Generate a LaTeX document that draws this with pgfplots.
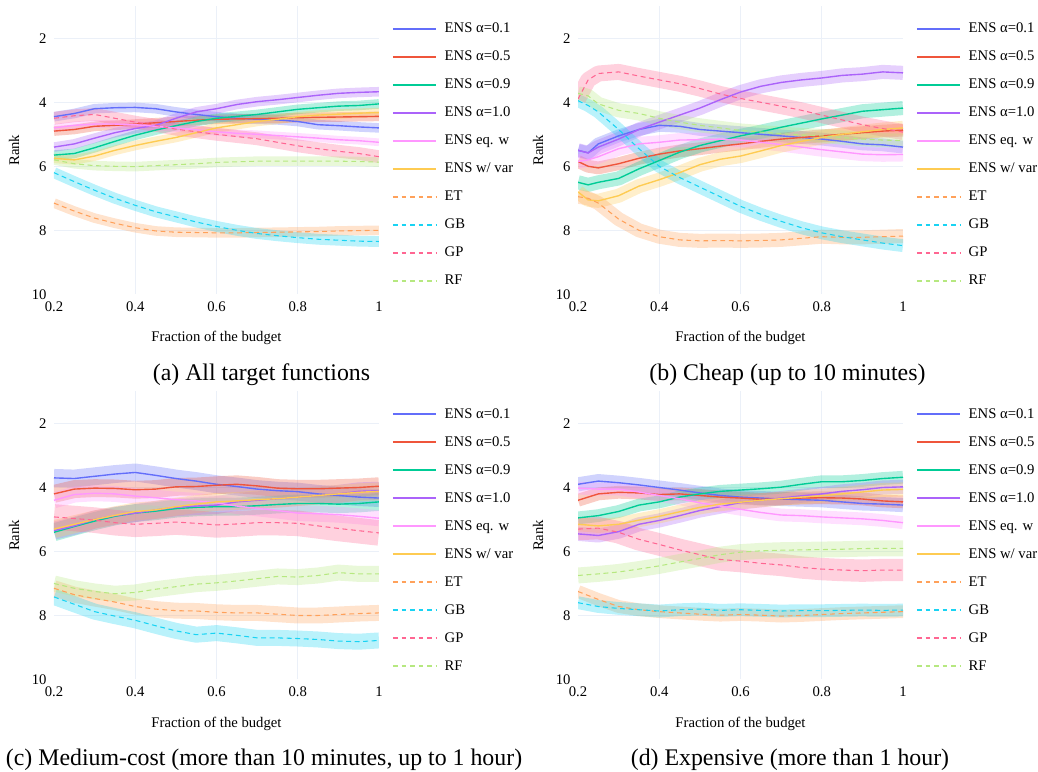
\documentclass[border=0pt]{standalone}
\usepackage{pgfplots}
\pgfplotsset{compat=1.18}
\usepackage{pgfplotstable}
\usepackage{fontspec}
\setmainfont{Liberation Serif}

\definecolor{c1}{HTML}{636EFA}
\definecolor{c5}{HTML}{EF553B}
\definecolor{c9}{HTML}{00CC96}
\definecolor{c10}{HTML}{AB63FA}
\definecolor{ceq}{HTML}{FF97FF}
\definecolor{cvar}{HTML}{FECB52}
\definecolor{cet}{HTML}{FFA15A}
\definecolor{cgb}{HTML}{19D3F3}
\definecolor{cgp}{HTML}{FF6692}
\definecolor{crf}{HTML}{B6E880}
\definecolor{gridc}{HTML}{EBF0F8}

\pgfplotstableread{
x     a1   a5   a9   a10  eq   var  et   gb   gp   rf
0.2   4.45 4.90 5.65 5.40 4.80 5.75 7.15 6.20 4.50 5.80
0.25  4.35 4.85 5.60 5.30 4.72 5.80 7.40 6.48 4.42 5.92
0.3   4.20 4.75 5.42 5.12 4.68 5.68 7.62 6.75 4.38 5.98
0.35  4.17 4.72 5.22 4.95 4.68 5.50 7.78 7.00 4.50 6.00
0.4   4.16 4.68 5.03 4.82 4.70 5.35 7.92 7.22 4.62 6.01
0.45  4.20 4.64 4.87 4.72 4.75 5.22 8.02 7.42 4.72 5.98
0.5   4.30 4.60 4.73 4.50 4.80 5.10 8.06 7.58 4.84 5.95
0.55  4.38 4.56 4.60 4.30 4.86 4.95 8.07 7.74 4.92 5.92
0.6   4.45 4.53 4.50 4.20 4.92 4.80 8.08 7.88 5.00 5.88
0.65  4.50 4.52 4.44 4.07 4.97 4.70 8.08 8.00 5.07 5.86
0.7   4.53 4.51 4.38 3.98 5.00 4.60 8.07 8.10 5.14 5.84
0.75  4.55 4.50 4.30 3.92 5.04 4.53 8.06 8.17 5.25 5.84
0.8   4.60 4.48 4.22 3.85 5.08 4.45 8.05 8.23 5.36 5.84
0.85  4.70 4.47 4.17 3.78 5.12 4.40 8.04 8.28 5.45 5.84
0.9   4.73 4.46 4.12 3.72 5.17 4.37 8.02 8.31 5.53 5.84
0.95  4.77 4.45 4.10 3.69 5.20 4.34 8.01 8.34 5.60 5.85
1.0   4.80 4.44 4.05 3.67 5.25 4.32 8.00 8.35 5.70 5.87
}\tabA

\pgfplotstableread{
x     a1   a5   a9   a10  eq   var  et   gb   gp   rf
0.2   5.50 5.85 6.50 5.50 5.85 6.80 6.95 3.95 3.90 3.72
0.225 5.58 6.00 6.58 5.58 5.80 7.05 7.00 4.10 3.30 3.80
0.25  5.30 6.05 6.50 5.40 5.70 7.08 7.15 4.30 3.10 4.05
0.3   5.05 5.92 6.38 5.15 5.45 6.92 7.65 4.85 3.05 4.25
0.35  4.85 5.75 6.08 4.85 5.30 6.62 8.00 5.45 3.18 4.35
0.4   4.72 5.62 5.82 4.62 5.25 6.42 8.20 6.00 3.30 4.50
0.45  4.75 5.52 5.56 4.40 5.18 6.20 8.30 6.35 3.42 4.62
0.5   4.85 5.45 5.35 4.18 5.17 5.95 8.33 6.65 3.57 4.72
0.55  4.90 5.37 5.20 3.92 5.15 5.78 8.32 6.95 3.74 4.80
0.6   4.95 5.30 5.05 3.68 5.18 5.68 8.33 7.25 3.88 4.88
0.65  5.00 5.22 4.92 3.50 5.25 5.52 8.32 7.50 4.00 4.93
0.7   5.05 5.15 4.78 3.38 5.32 5.35 8.30 7.72 4.12 4.98
0.75  5.10 5.10 4.65 3.30 5.40 5.22 8.25 7.92 4.25 5.02
0.8   5.15 5.05 4.52 3.24 5.48 5.10 8.20 8.08 4.40 5.05
0.85  5.22 5.00 4.40 3.16 5.55 5.00 8.22 8.20 4.55 5.10
0.9   5.30 4.95 4.28 3.12 5.62 4.92 8.22 8.30 4.70 5.15
0.95  5.33 4.90 4.23 3.05 5.64 4.85 8.20 8.40 4.82 5.18
1.0   5.40 4.87 4.18 3.08 5.63 4.80 8.18 8.48 4.93 5.20
}\tabB

\pgfplotstableread{
x     a1   a5   a9   a10  eq   var  et   gb   gp   rf
0.2   3.70 4.20 5.40 5.35 4.40 5.30 7.15 7.42 4.92 7.00
0.25  3.72 4.05 5.22 5.20 4.22 5.15 7.35 7.65 4.97 7.15
0.3   3.65 4.02 5.05 5.00 4.18 5.00 7.47 7.88 5.02 7.25
0.35  3.58 4.03 4.90 4.88 4.20 4.87 7.58 8.02 5.10 7.32
0.4   3.53 4.07 4.80 4.80 4.27 4.75 7.72 8.15 5.15 7.28
0.45  3.62 4.05 4.74 4.70 4.32 4.70 7.80 8.32 5.12 7.18
0.5   3.72 3.98 4.66 4.62 4.38 4.60 7.85 8.48 5.08 7.10
0.55  3.80 3.97 4.62 4.58 4.42 4.52 7.86 8.60 5.12 7.02
0.6   3.90 3.93 4.60 4.55 4.48 4.45 7.90 8.55 5.17 6.98
0.65  3.97 3.90 4.60 4.45 4.58 4.42 7.92 8.62 5.14 6.92
0.7   4.05 3.95 4.57 4.40 4.65 4.38 7.92 8.70 5.10 6.85
0.75  4.10 4.02 4.53 4.35 4.72 4.35 7.96 8.70 5.10 6.78
0.8   4.13 4.04 4.50 4.30 4.80 4.30 8.00 8.72 5.12 6.80
0.85  4.20 4.04 4.50 4.25 4.82 4.25 8.00 8.75 5.20 6.75
0.9   4.25 4.02 4.52 4.20 4.85 4.20 7.97 8.80 5.28 6.66
0.95  4.30 4.00 4.50 4.12 4.90 4.15 7.94 8.82 5.35 6.70
1.0   4.33 3.96 4.45 4.10 4.96 4.12 7.92 8.78 5.42 6.70
}\tabC

\pgfplotstableread{
x     a1   a5   a9   a10  eq   var  et   gb   gp   rf
0.2   3.90 4.40 4.95 5.45 4.02 5.15 7.25 7.60 5.30 6.75
0.25  3.80 4.20 4.88 5.50 4.05 5.20 7.50 7.72 5.27 6.70
0.3   3.85 4.15 4.75 5.38 4.05 5.15 7.72 7.78 5.40 6.64
0.35  3.92 4.17 4.55 5.15 4.14 5.02 7.82 7.82 5.62 6.55
0.4   4.00 4.22 4.45 5.03 4.25 4.90 7.88 7.86 5.78 6.45
0.45  4.08 4.20 4.30 4.88 4.35 4.76 7.92 7.82 5.95 6.33
0.5   4.17 4.25 4.20 4.72 4.48 4.62 7.96 7.80 6.10 6.22
0.55  4.25 4.30 4.12 4.60 4.58 4.52 7.99 7.84 6.25 6.10
0.6   4.30 4.33 4.08 4.47 4.68 4.46 7.97 7.82 6.30 6.02
0.65  4.33 4.37 4.04 4.40 4.78 4.40 7.99 7.84 6.37 5.98
0.7   4.36 4.35 3.99 4.33 4.86 4.35 8.02 7.86 6.42 5.96
0.75  4.38 4.33 3.90 4.26 4.88 4.30 8.00 7.85 6.50 5.95
0.8   4.40 4.32 3.82 4.20 4.92 4.26 7.97 7.85 6.55 5.94
0.85  4.45 4.33 3.82 4.12 4.95 4.20 7.94 7.84 6.58 5.93
0.9   4.50 4.36 3.78 4.07 4.98 4.14 7.92 7.83 6.60 5.91
0.95  4.52 4.42 3.72 4.00 5.03 4.08 7.90 7.84 6.58 5.90
1.0   4.55 4.45 3.68 3.98 5.10 4.06 7.88 7.83 6.58 5.90
}\tabD

\tikzset{dashed base/.style={dash pattern=on 2.3pt off 1.7pt}}

% band drawn as a wide translucent stroke along the mean:
% #1 table, #2 column, #3 colour, #4 band width
\newcommand\band[4]{%
  \addplot[draw=#3, draw opacity=0.3, line width=#4, line join=round, forget plot] table[x=x, y=#2] {#1};
}
\newcommand\serieslines[1]{%
  \addplot[color=c1, line width=0.65pt] table[x=x, y=a1] {#1};
  \addplot[color=c5, line width=0.65pt] table[x=x, y=a5] {#1};
  \addplot[color=c9, line width=0.65pt] table[x=x, y=a9] {#1};
  \addplot[color=c10, line width=0.65pt] table[x=x, y=a10] {#1};
  \addplot[color=ceq, line width=0.65pt] table[x=x, y=eq] {#1};
  \addplot[color=cvar, line width=0.65pt] table[x=x, y=var] {#1};
  \addplot[color=cet, line width=0.5pt, dashed base] table[x=x, y=et] {#1};
  \addplot[color=cgb, line width=0.5pt, dashed base] table[x=x, y=gb] {#1};
  \addplot[color=cgp, line width=0.5pt, dashed base] table[x=x, y=gp] {#1};
  \addplot[color=crf, line width=0.5pt, dashed base] table[x=x, y=rf] {#1};
}
\newcommand\wvar{ENS w/ var}
% legend key beside a named axis
\newcommand\keys[1]{%
  \foreach \i/\c/\s/\t in {0/c1/solid/ENS α=0.1, 1/c5/solid/ENS α=0.5, 2/c9/solid/ENS α=0.9,
      3/c10/solid/ENS α=1.0, 4/ceq/solid/ENS eq. w, 5/cvar/solid/\wvar,
      6/cet/dashed base/ET, 7/cgb/dashed base/GB, 8/cgp/dashed base/GP, 9/crf/dashed base/RF}{
    \draw[color=\c, line width=0.8pt, \s] ([xshift=6.58pt, yshift={-10.67pt-\i*13.16pt}]#1.north east) -- ++(20.2pt,0pt)
      node[right, inner sep=0pt, xshift=3.7pt, text height=5pt, text depth=1.3pt,
           text=black, font=\fontsize{6.9}{8}\selectfont] {\t};
  }%
}

\pgfplotsset{panel/.style={
  scale only axis, width=152.75pt, height=135.36pt,
  xmin=0.2, xmax=1, ymin=1, ymax=10, y dir=reverse,
  xtick={0.2,0.4,0.6,0.8,1}, ytick={2,4,6,8,10},
  xticklabels={0.2,0.4,0.6,0.8,1},
  minor xtick={0.4,0.6,0.8}, minor ytick={2,4,6,8},
  xminorgrids=true, yminorgrids=true,
  minor grid style={color=gridc, line width=0.6pt},
  major tick length=0pt, minor tick length=0pt,
  axis line style={draw=none},
  tick label style={font=\fontsize{6.9}{8}\selectfont},
  /pgf/number format/assume math mode=true,
  xlabel={Fraction of the budget}, ylabel={Rank},
  label style={font=\fontsize{6.9}{8}\selectfont},
  xlabel style={at={(axis description cs:0.5,-0.153)}, anchor=center},
  ylabel style={at={(axis description cs:-0.123,0.5)}, anchor=center},
}}

\begin{document}
\begin{tikzpicture}

\begin{axis}[panel, name=axA, at={(25.38pt,224.52pt)}, anchor=south west]
  \band{\tabA}{a1}{c1}{4.5pt}
  \band{\tabA}{a5}{c5}{4.5pt}
  \band{\tabA}{a9}{c9}{4.5pt}
  \band{\tabA}{a10}{c10}{4.5pt}
  \band{\tabA}{eq}{ceq}{3.6pt}
  \band{\tabA}{var}{cvar}{4.5pt}
  \band{\tabA}{et}{cet}{4.5pt}
  \band{\tabA}{gb}{cgb}{5.1pt}
  \band{\tabA}{gp}{cgp}{6pt}
  \band{\tabA}{rf}{crf}{4.5pt}
  \serieslines{\tabA}
\end{axis}
\keys{axA}

\begin{axis}[panel, name=axB, at={(271.66pt,224.52pt)}, anchor=south west]
  \band{\tabB}{a1}{c1}{6pt}
  \band{\tabB}{a5}{c5}{6pt}
  \band{\tabB}{a9}{c9}{6.6pt}
  \band{\tabB}{a10}{c10}{6.6pt}
  \band{\tabB}{eq}{ceq}{6.6pt}
  \band{\tabB}{var}{cvar}{6.6pt}
  \band{\tabB}{et}{cet}{6.6pt}
  \band{\tabB}{gb}{cgb}{6pt}
  \band{\tabB}{gp}{cgp}{7.5pt}
  \band{\tabB}{rf}{crf}{6.6pt}
  \serieslines{\tabB}
\end{axis}
\keys{axB}

\begin{axis}[panel, name=axC, at={(25.38pt,43.48pt)}, anchor=south west]
  \band{\tabC}{a1}{c1}{8.4pt}
  \band{\tabC}{a5}{c5}{8.4pt}
  \band{\tabC}{a9}{c9}{8.4pt}
  \band{\tabC}{a10}{c10}{8.4pt}
  \band{\tabC}{eq}{ceq}{7.5pt}
  \band{\tabC}{var}{cvar}{8.4pt}
  \band{\tabC}{et}{cet}{7.5pt}
  \band{\tabC}{gb}{cgb}{7.5pt}
  \band{\tabC}{gp}{cgp}{12pt}
  \band{\tabC}{rf}{crf}{7.5pt}
  \serieslines{\tabC}
\end{axis}
\keys{axC}

\begin{axis}[panel, name=axD, at={(271.66pt,43.48pt)}, anchor=south west]
  \band{\tabD}{a1}{c1}{6.6pt}
  \band{\tabD}{a5}{c5}{6pt}
  \band{\tabD}{a9}{c9}{6pt}
  \band{\tabD}{a10}{c10}{6.6pt}
  \band{\tabD}{eq}{ceq}{6pt}
  \band{\tabD}{var}{cvar}{6.6pt}
  \band{\tabD}{et}{cet}{6pt}
  \band{\tabD}{gb}{cgb}{6pt}
  \band{\tabD}{gp}{cgp}{10.5pt}
  \band{\tabD}{rf}{crf}{7.5pt}
  \serieslines{\tabD}
\end{axis}
\keys{axD}

\node[font=\fontsize{11.2}{13}\selectfont, anchor=center] at (122.9pt,186.6pt) {(a) All target functions};
\node[font=\fontsize{11.2}{13}\selectfont, anchor=center] at (370.1pt,186.6pt) {(b) Cheap (up to 10 minutes)};
\node[font=\fontsize{11.2}{13}\selectfont, anchor=center] at (124.1pt,5.9pt) {(c) Medium-cost (more than 10 minutes, up to 1 hour)};
\node[font=\fontsize{11.2}{13}\selectfont, anchor=center] at (371.3pt,5.9pt) {(d) Expensive (more than 1 hour)};

\pgfresetboundingbox
\path (0,0) rectangle (487.86pt,362.84pt);
\end{tikzpicture}
\end{document}
